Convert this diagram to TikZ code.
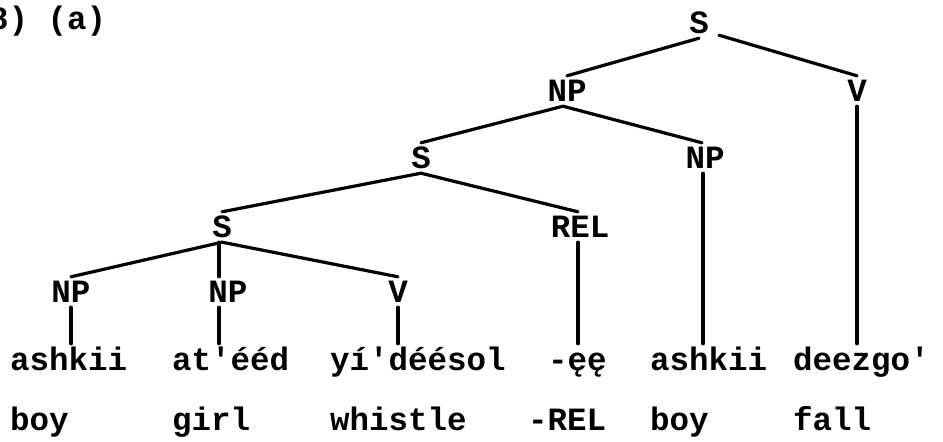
\documentclass[tikz,border=0pt]{standalone}
\usepackage{fontspec}
\setmonofont{Liberation Mono}
\begin{document}
\begin{tikzpicture}[x=1pt,y=-1pt,
  every node/.style={font=\fontsize{32.5}{38}\selectfont\ttfamily\bfseries},
  lab/.style={inner xsep=0pt, inner ysep=5pt, text height=20pt, text depth=0pt},
  word/.style={anchor=base west, inner xsep=0pt, inner ysep=6pt, text height=20pt, text depth=7pt},
  branch/.style={line width=3.2pt, line cap=round}]
\useasboundingbox (0,0) rectangle (943,442);
% heading
\node[anchor=base west, inner sep=0pt] (head) at (-11,29) {8) (a)};
% tree labels
\node[lab] (S1)  at (699,23)  {S};
\node[lab] (NP1) at (567,91)  {NP};
\node[lab] (V1)  at (857,91)  {V};
\node[lab] (S2)  at (421,158) {S};
\node[lab] (NP2) at (705,158) {NP};
\node[lab] (S3)  at (222,227) {S};
\node[lab] (REL) at (580,227) {REL};
\node[lab] (NP3) at (71,292)  {NP};
\node[lab] (NP4) at (228,292) {NP};
\node[lab] (V2)  at (398,292) {V};
% words
\node[word] (w1) at (10,370)  {ashkii};
\node[word] (w2) at (172,370) {at'ééd};
\node[word] (w3) at (330,370) {yí'déésol};
\node[word] (w4) at (548,370) {-ęę};
\node[word] (w5) at (650,370) {ashkii};
\node[word] (w6) at (793,370) {deezgo'};
% glosses
\node[word] (g1) at (10,430)  {boy};
\node[word] (g2) at (172,430) {girl};
\node[word] (g3) at (330,430) {whistle};
\node[word] (g4) at (528,430) {-REL};
\node[word] (g5) at (650,430) {boy};
\node[word] (g6) at (793,430) {fall};
% branches
\draw[branch] (S1.south) -- (NP1.north);
\draw[branch] ([xshift=20pt,yshift=3pt]S1.south) -- (V1.north);
\draw[branch] ([xshift=-4pt]NP1.south) -- (S2.north);
\draw[branch] ([xshift=-4pt]NP1.south) -- ([xshift=-3pt]NP2.north);
\draw[branch] (S2.south) -- (S3.north);
\draw[branch] (S2.south) -- ([xshift=-2pt]REL.north);
\draw[branch] (S3.south) -- (NP3.north);
\draw[branch] ([xshift=-3pt]S3.south) -- ([xshift=-9pt]NP4.north);
\draw[branch] (S3.south) -- (V2.north);
\draw[branch] (V1.south) -- (V1.south |- w6.north);
\draw[branch] ([xshift=-2pt]NP2.south) -- ([xshift=-2pt]NP2.south |- w5.north);
\draw[branch] ([xshift=-2pt]REL.south) -- ([xshift=-2pt]REL.south |- w4.north);
\draw[branch] (NP3.south) -- (NP3.south |- w1.north);
\draw[branch] ([xshift=-9pt]NP4.south) -- ([xshift=-9pt]NP4.south |- w2.north);
\draw[branch] (V2.south) -- (V2.south |- w3.north);
\end{tikzpicture}
\end{document}
